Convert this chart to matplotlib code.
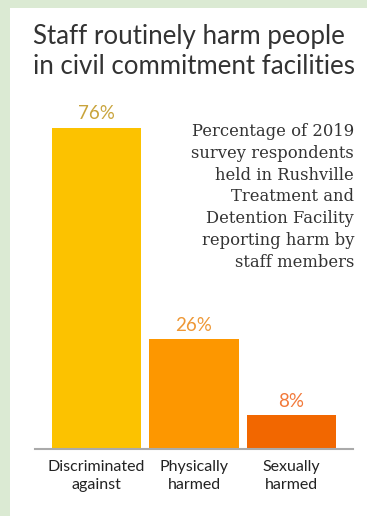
import numpy as np
import matplotlib
matplotlib.use('Agg')
import matplotlib.pyplot as plt
from matplotlib.patches import Rectangle

categories = ['Discriminated\nagainst', 'Physically\nharmed', 'Sexually\nharmed']
values = [76, 26, 8]
bar_colors = ['#fcc200', '#fd9700', '#f26700']
label_colors = ['#c9a43c', '#ee9836', '#f2793a']
title = 'Staff routinely harm people\nin civil commitment facilities'
note = ('Percentage of 2019\nsurvey respondents\nheld in Rushville\nTreatment and\n'
        'Detention Facility\nreporting harm by\nstaff members')

W, H = 367, 516
fig = plt.figure(figsize=(W / 100, H / 100), dpi=100)
fig.patch.set_facecolor('#dbead3')
fig.patches.append(Rectangle((10 / W, 0), 1, (H - 8) / H, transform=fig.transFigure,
                             facecolor='white', edgecolor='none', zorder=-5))

ax = fig.add_axes([35 / W, (H - 449) / H, 318 / W, 422.4 / H])
ax.set_facecolor('none')
x = np.arange(len(values))
ax.bar(x, values, width=0.913, color=bar_colors, zorder=2)
ax.set_xlim(-0.631, 2.631)
ax.set_ylim(0, 100)
for xi, v, c in zip(x, values, label_colors):
    ax.text(xi, v + 1.3, f'{v}%', ha='center', va='bottom', color=c,
            fontsize=13.5, family='Lato')

for s in ['top', 'right', 'left']:
    ax.spines[s].set_visible(False)
ax.spines['bottom'].set_color('#aaaaaa')
ax.spines['bottom'].set_linewidth(1.5)
ax.set_yticks([])
ax.set_xticks(x)
ax.set_xticklabels(categories, fontsize=11.5, family='Lato', color='#222222',
                   linespacing=1.38)
ax.tick_params(axis='x', length=0, pad=8)

fig.text(33 / W, 1 - 24 / H, title, ha='left', va='top', fontsize=18.6,
         family='Lato', color='#333333', linespacing=1.25)
fig.text(354 / W, 1 - 123 / H, note, ha='right', va='top', fontsize=11.8,
         family='DejaVu Serif', color='#333333', linespacing=1.37)

fig.savefig('out.png', dpi=100)
